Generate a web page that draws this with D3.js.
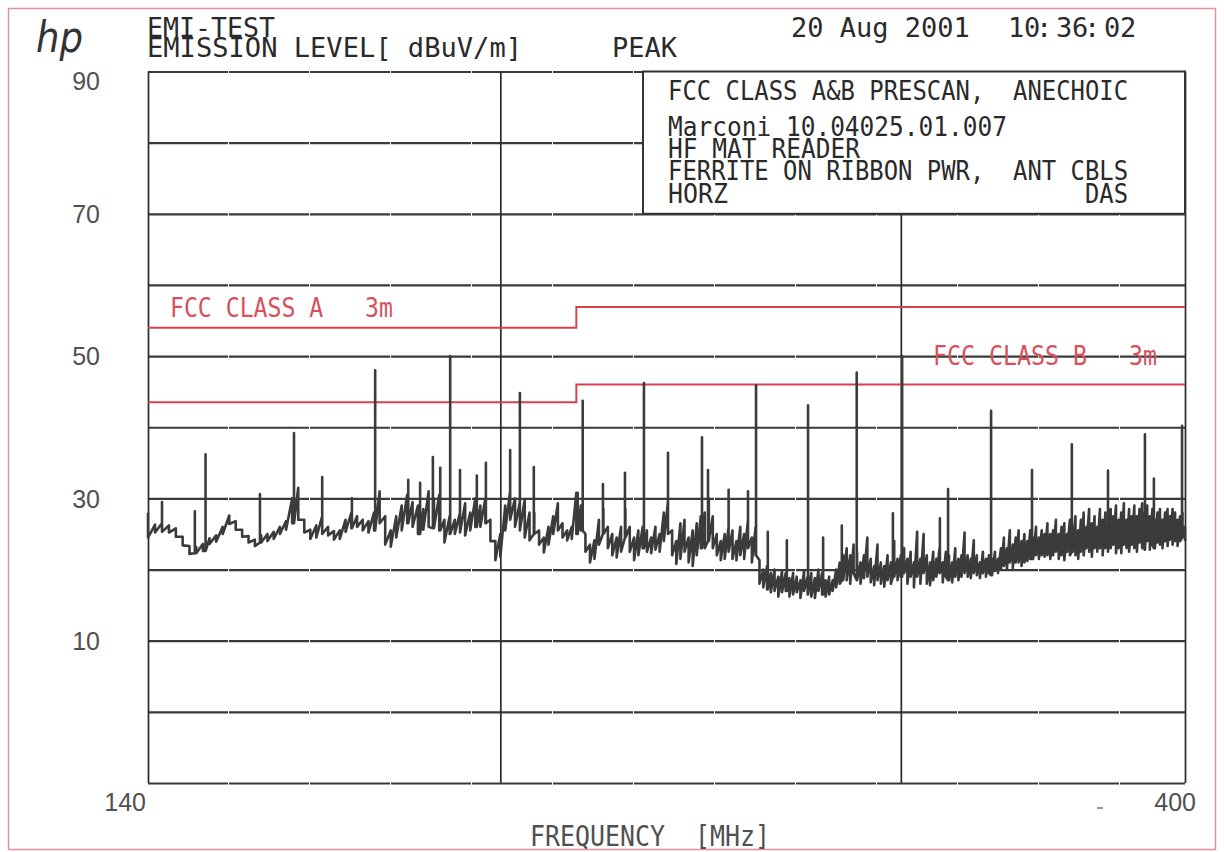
<!DOCTYPE html>
<html lang="en">
<head>
<meta charset="UTF-8">
<title>EMI-TEST</title>
<script src="https://cdn.jsdelivr.net/npm/d3@7"></script>
<style>
  body { margin: 0; background: #fff; }
  svg { display: block; }
  .plot { font-family: "DejaVu Sans Mono", monospace; }
  .plot text { white-space: pre; }
</style>
</head>
<body>
<div id="chart"></div>
<script>

// grid + axis values
var gridDb = [90, 80, 70, 60, 50, 40, 30, 20, 10, 0, -10];
var gridMHz = [140, 200, 300, 400];
var yLabels = [90, 70, 50, 30, 10];
var xLabels = [140, 400];

// FCC limits (3m)
var classAFreq = [140, 216, 400];
var classALevel = [54, 56.9, 56.9];
var classBFreq = [140, 216, 400];
var classBLevel = [43.5, 46, 46];

// peak scan, 1 MHz steps, max / min of each step (dBuV/m)
var scanFreq = [
  140,141,142,143,144,145,146,147,148,149,
  150,151,152,153,154,155,156,157,158,159,
  160,161,162,163,164,165,166,167,168,169,
  170,171,172,173,174,175,176,177,178,179,
  180,181,182,183,184,185,186,187,188,189,
  190,191,192,193,194,195,196,197,198,199,
  200,201,202,203,204,205,206,207,208,209,
  210,211,212,213,214,215,216,217,218,219,
  220,221,222,223,224,225,226,227,228,229,
  230,231,232,233,234,235,236,237,238,239,
  240,241,242,243,244,245,246,247,248,249,
  250,251,252,253,254,255,256,257,258,259,
  260,261,262,263,264,265,266,267,268,269,
  270,271,272,273,274,275,276,277,278,279,
  280,281,282,283,284,285,286,287,288,289,
  290,291,292,293,294,295,296,297,298,299,
  300,301,302,303,304,305,306,307,308,309,
  310,311,312,313,314,315,316,317,318,319,
  320,321,322,323,324,325,326,327,328,329,
  330,331,332,333,334,335,336,337,338,339,
  340,341,342,343,344,345,346,347,348,349,
  350,351,352,353,354,355,356,357,358,359,
  360,361,362,363,364,365,366,367,368,369,
  370,371,372,373,374,375,376,377,378,379,
  380,381,382,383,384,385,386,387,388,389,
  390,391,392,393,394,395,396,397,398,399,400
];
var scanHi = [
  28.0,26.3,26.5,26.2,25.8,24.6,23.3,23.2,23.6,24.4,
  24.8,26.0,27.6,26.8,25.6,24.7,24.2,24.8,25.0,25.3,
  26.0,26.8,30.0,31.5,27.0,25.6,26.2,27.5,26.0,25.4,
  25.5,27.0,28.0,27.5,27.0,26.8,28.0,31.0,27.5,25.5,
  27.5,29.0,30.5,29.5,29.0,28.5,31.0,30.0,30.5,27.0,
  27.5,27.0,28.0,29.3,28.0,30.0,29.0,30.0,27.0,24.0,
  25.0,29.0,31.0,30.0,29.5,29.8,28.0,28.0,25.5,24.5,
  26.0,27.5,29.3,26.5,25.5,26.0,30.8,29.0,25.0,23.5,
  24.1,27.0,28.5,26.0,25.0,24.5,26.0,28.5,26.0,24.5,
  25.5,26.0,25.5,24.5,26.0,25.0,28.0,29.5,25.5,24.0,
  26.5,27.0,24.5,25.5,26.5,27.5,28.0,30.0,27.5,25.0,
  24.0,25.0,26.0,25.5,24.0,26.0,25.0,27.0,24.5,26.0,
  21.3,20.0,20.5,19.5,20.0,19.0,19.8,19.5,18.8,19.5,
  19.0,18.5,19.8,19.0,19.5,18.8,20.0,19.5,18.5,19.0,
  18.5,20.0,21.0,22.0,23.0,22.0,23.5,22.5,21.0,22.0,
  24.5,21.5,20.5,23.5,21.0,20.5,22.0,21.0,24.0,21.5,
  22.0,23.0,21.5,22.5,21.0,25.3,21.5,25.0,22.0,21.0,
  22.5,21.5,23.0,21.0,22.5,22.0,21.0,23.0,21.5,22.0,
  25.2,22.0,21.5,24.1,22.0,21.0,22.5,21.5,22.0,21.5,
  22.5,21.5,23.0,24.5,23.0,25.5,23.5,24.5,25.5,24.0,
  25.0,24.0,25.5,24.5,26.0,24.5,25.5,25.0,26.5,25.0,
  25.5,27.0,25.0,26.0,26.5,25.0,27.0,26.0,27.5,25.5,
  27.0,28.0,26.0,28.5,26.5,27.5,26.0,28.5,27.0,28.0,
  26.5,28.5,27.5,29.0,27.0,28.0,29.3,27.0,28.5,27.5,
  29.0,27.5,28.5,29.3,28.0,29.0,27.5,28.5,27.0,28.0,
  28.5,27.0,28.0,28.5,27.5,28.5,28.0,27.0,27.5,28.0,26.0
];
var scanLo = [
  24.5,25.2,25.3,25.2,24.6,23.4,22.2,22.3,22.6,23.6,
  23.9,25.0,26.4,25.6,24.6,23.8,23.3,23.8,24.0,24.3,
  25.0,25.6,26.5,27.0,25.2,24.3,24.5,25.0,24.8,24.2,
  24.3,25.3,25.8,26.0,25.5,25.2,25.5,26.5,23.5,23.2,
  24.5,25.5,26.5,26.0,25.0,25.6,26.0,25.8,25.5,23.8,
  25.0,25.0,25.2,24.8,25.5,26.0,26.0,26.5,24.0,21.3,
  21.8,25.5,27.0,26.0,25.5,24.5,24.1,25.0,23.5,22.4,
  23.5,25.0,25.5,24.5,24.1,24.3,25.0,25.5,22.5,21.0,
  21.5,23.5,25.0,23.0,22.0,21.7,22.5,24.5,22.5,21.3,
  22.0,23.0,22.5,22.3,22.8,22.5,24.0,25.0,22.0,20.8,
  21.5,22.5,21.0,20.5,22.0,23.0,23.0,24.0,23.0,22.0,
  21.3,21.5,22.5,21.5,21.3,22.0,21.5,23.0,21.0,22.0,
  18.0,17.5,17.2,16.8,17.0,16.2,16.8,17.0,16.2,16.5,
  16.8,16.0,17.0,16.5,16.2,16.0,17.0,16.5,16.2,16.5,
  17.0,17.5,18.0,18.5,18.5,18.0,19.5,18.5,18.0,18.8,
  19.0,18.2,17.8,18.5,18.0,17.6,18.5,18.0,19.0,18.5,
  19.0,19.5,18.0,19.0,17.5,19.0,18.0,19.5,18.0,17.8,
  18.5,19.0,19.5,18.2,19.0,18.5,18.2,19.0,18.5,19.0,
  19.5,19.0,18.8,19.5,19.2,18.8,19.5,19.0,19.5,19.2,
  19.8,19.5,20.0,20.5,20.0,21.0,20.2,21.0,21.0,20.5,
  21.0,21.2,21.5,21.5,22.0,21.5,22.0,21.8,22.0,21.5,
  22.0,22.5,21.5,22.0,21.3,22.5,22.0,22.5,22.0,21.5,
  22.5,22.0,23.0,22.5,21.8,23.0,22.5,23.0,22.0,23.0,
  22.5,23.0,23.5,22.3,23.0,22.3,23.5,23.0,22.5,23.5,
  23.0,22.5,23.8,23.0,22.8,24.0,22.8,23.5,23.0,23.8,
  23.5,23.0,24.0,23.3,24.2,23.5,24.0,23.3,24.0,24.5,24.0
];

// narrowband peaks
var spikeFreq = [
  142.0,146.8,148.4,156.8,162.3,167.0,172.1,176.2,182.2,184.4,
  186.8,188.2,190.1,192.0,195.3,197.1,202.0,204.0,206.9,216.3,
  217.4,221.9,226.9,231.3,237.0,245.3,246.8,252.0,257.0,259.1,
  262.2,267.3,273.1,277.3,282.6,286.9,297.6,300.4,312.1,314.7,
  328.7,342.6,356.7,370.0,384.1,387.6,398.8
];
var spikeLevel = [
  29.5,28.2,36.2,30.6,39.2,33.0,30.0,48.0,32.6,32.2,
  35.8,34.3,50.0,34.0,33.2,35.0,36.8,44.8,34.4,30.8,
  43.7,32.0,33.6,46.2,36.4,38.6,34.0,31.2,31.0,45.9,
  25.3,24.1,43.1,24.5,26.2,47.7,27.9,50.0,27.2,31.3,
  42.3,34.0,37.6,33.9,39.0,32.8,40.2
];

var infoLines = [
  "FCC CLASS A&B PRESCAN,  ANECHOIC",
  "Marconi 10.04025.01.007",
  "HF MAT READER",
  "FERRITE ON RIBBON PWR,  ANT CBLS",
  "HORZ"
];

var W = 1224, H = 852;
var margin = {top: 71.5, right: 39, bottom: 69, left: 148};
var width = W - margin.left - margin.right,
    height = H - margin.top - margin.bottom;

var ink = "#2a2a2a";
var limitRed = "#d9414f";

var svg = d3.select("#chart").append("svg")
    .attr("width", W)
    .attr("height", H)
    .attr("class", "plot");

// paper frame
svg.append("rect")
    .attr("x", 8.5).attr("y", 8.5)
    .attr("width", 1207).attr("height", 841)
    .attr("fill", "none")
    .attr("stroke", "#e8909a")
    .attr("stroke-width", 1.5);

var g = svg.append("g")
    .attr("transform", "translate(" + margin.left + "," + margin.top + ")");

var x = d3.scaleLog().domain([140, 400]).range([0, width]);
var y = d3.scaleLinear().domain([-10, 90]).range([height, 0]);

// horizontal grid
g.append("g")
    .attr("class", "hgrid")
    .call(d3.axisLeft(y).tickValues(gridDb).tickSize(-width).tickFormat(""))
    .call(function(a) { a.select(".domain").remove(); });
g.selectAll(".hgrid line")
    .attr("stroke", "#3a3a3a")
    .attr("stroke-width", 2.2)
    .attr("stroke-dasharray", "80,1");

// vertical grid
g.append("g")
    .attr("class", "vgrid")
    .attr("transform", "translate(0," + height + ")")
    .call(d3.axisBottom(x).tickValues(gridMHz).tickSize(-height).tickFormat(""))
    .call(function(a) { a.select(".domain").remove(); });
g.selectAll(".vgrid line")
    .attr("stroke", "#2a2a2a")
    .attr("stroke-width", 1.7);

// annotation box
var boxL = 495;
g.append("rect")
    .attr("x", boxL).attr("y", 0)
    .attr("width", width - boxL).attr("height", y(70))
    .attr("fill", "#fff")
    .attr("stroke", "#333")
    .attr("stroke-width", 2);

var infoY = [28.5, 64.5, 86.5, 108.5, 131.5];
var infoW = [460, 339, 192, 460, 60];
g.selectAll(".info")
    .data(infoLines)
    .enter().append("text")
    .attr("class", "info")
    .attr("x", 520)
    .attr("y", function(d, i) { return infoY[i]; })
    .attr("textLength", function(d, i) { return infoW[i]; })
    .attr("lengthAdjust", "spacingAndGlyphs")
    .attr("font-size", 27)
    .attr("fill", ink)
    .text(function(d) { return d; });
g.append("text")
    .attr("x", 980).attr("y", 131.5)
    .attr("text-anchor", "end")
    .attr("font-size", 27)
    .attr("textLength", 43).attr("lengthAdjust", "spacingAndGlyphs")
    .attr("fill", ink)
    .text("DAS");

// limit lines
var stepLine = d3.line()
    .x(function(d) { return x(d[0]); })
    .y(function(d) { return y(d[1]); })
    .curve(d3.curveStepAfter);

g.append("path")
    .datum(classAFreq.map(function(f, i) { return [f, classALevel[i]]; }))
    .attr("d", stepLine)
    .attr("fill", "none")
    .attr("stroke", limitRed)
    .attr("stroke-width", 2);
g.append("path")
    .datum(classBFreq.map(function(f, i) { return [f, classBLevel[i]]; }))
    .attr("d", stepLine)
    .attr("fill", "none")
    .attr("stroke", limitRed)
    .attr("stroke-width", 2);

g.append("text")
    .attr("x", 22).attr("y", y(55.5))
    .attr("font-size", 27)
    .attr("textLength", 223).attr("lengthAdjust", "spacingAndGlyphs")
    .attr("fill", "#d9505c")
    .text("FCC CLASS A   3m");
g.append("text")
    .attr("x", 785).attr("y", y(48.7))
    .attr("font-size", 27)
    .attr("textLength", 224).attr("lengthAdjust", "spacingAndGlyphs")
    .attr("fill", "#d9505c")
    .text("FCC CLASS B   3m");

// trace: max/min per step, with spikes dropped in at their frequency
var pts = [];
scanFreq.forEach(function(f, i) {
  pts.push([f, scanHi[i]], [f, scanLo[i]]);
});
spikeFreq.forEach(function(f, i) {
  var j = d3.minIndex(scanFreq, function(s) { return Math.abs(s - f); });
  pts.push([f, scanLo[j]], [f, spikeLevel[i]], [f, scanLo[j]]);
});
pts.sort(function(a, b) { return a[0] - b[0]; });

var traceLine = d3.line()
    .x(function(d) { return x(d[0]); })
    .y(function(d) { return y(d[1]); });

g.append("path")
    .datum(pts)
    .attr("d", traceLine)
    .attr("fill", "none")
    .attr("stroke", "#3b3b3b")
    .attr("stroke-width", 2.6)
    .attr("stroke-linejoin", "round");

// axis labels
var yAx = g.append("g")
    .call(d3.axisLeft(y).tickValues(yLabels).tickSize(0).tickPadding(48))
    .call(function(a) { a.select(".domain").remove(); });
yAx.selectAll("text")
    .attr("font-family", "Liberation Sans, Arial, sans-serif")
    .attr("font-size", 25)
    .attr("fill", "#505050")
    .attr("dy", function(d) { return d === 90 ? "0.7em" : "0.35em"; });

g.selectAll(".xlab")
    .data(xLabels)
    .enter().append("text")
    .attr("class", "xlab")
    .attr("x", function(d) { return x(d) + (d === 140 ? -2 : 11); })
    .attr("y", height + 28)
    .attr("text-anchor", "end")
    .attr("font-family", "Liberation Sans, Arial, sans-serif")
    .attr("font-size", 25)
    .attr("fill", "#505050")
    .text(function(d) { return d; });

// stray pen mark near the right end of the axis
svg.append("line")
    .attr("x1", 1097).attr("x2", 1103)
    .attr("y1", 808).attr("y2", 808)
    .attr("stroke", "#999")
    .attr("stroke-width", 2);

svg.append("text")
    .attr("x", 530).attr("y", 846)
    .attr("font-size", 29)
    .attr("textLength", 240).attr("lengthAdjust", "spacingAndGlyphs")
    .attr("fill", "#505050")
    .text("FREQUENCY  [MHz]");

// header
svg.append("text")
    .attr("x", 36).attr("y", 52)
    .attr("font-family", "DejaVu Sans, sans-serif")
    .attr("font-weight", 200)
    .attr("font-style", "italic")
    .attr("font-size", 42)
    .attr("textLength", 47).attr("lengthAdjust", "spacingAndGlyphs")
    .attr("fill", "#333")
    .text("hp");

svg.append("text")
    .attr("x", 147).attr("y", 37)
    .attr("font-size", 27)
    .attr("textLength", 128).attr("lengthAdjust", "spacingAndGlyphs")
    .attr("fill", ink)
    .text("EMI-TEST");
svg.append("text")
    .attr("x", 147).attr("y", 57)
    .attr("font-size", 27)
    .attr("textLength", 375).attr("lengthAdjust", "spacingAndGlyphs")
    .attr("fill", ink)
    .text("EMISSION LEVEL[ dBuV/m]");
svg.append("text")
    .attr("x", 612).attr("y", 57)
    .attr("font-size", 27)
    .attr("textLength", 65).attr("lengthAdjust", "spacingAndGlyphs")
    .attr("fill", ink)
    .text("PEAK");

svg.append("text")
    .attr("x", 791).attr("y", 37)
    .attr("font-size", 27)
    .attr("fill", ink)
    .text("20 Aug 2001");
// plotter puts each glyph in its own cell
svg.append("text")
    .attr("x", "1008 1024 1036 1048 1056 1072 1084 1096 1104 1120")
    .attr("y", 37)
    .attr("font-size", 27)
    .attr("fill", ink)
    .text("10: 36: 02");

</script>
</body>
</html>
